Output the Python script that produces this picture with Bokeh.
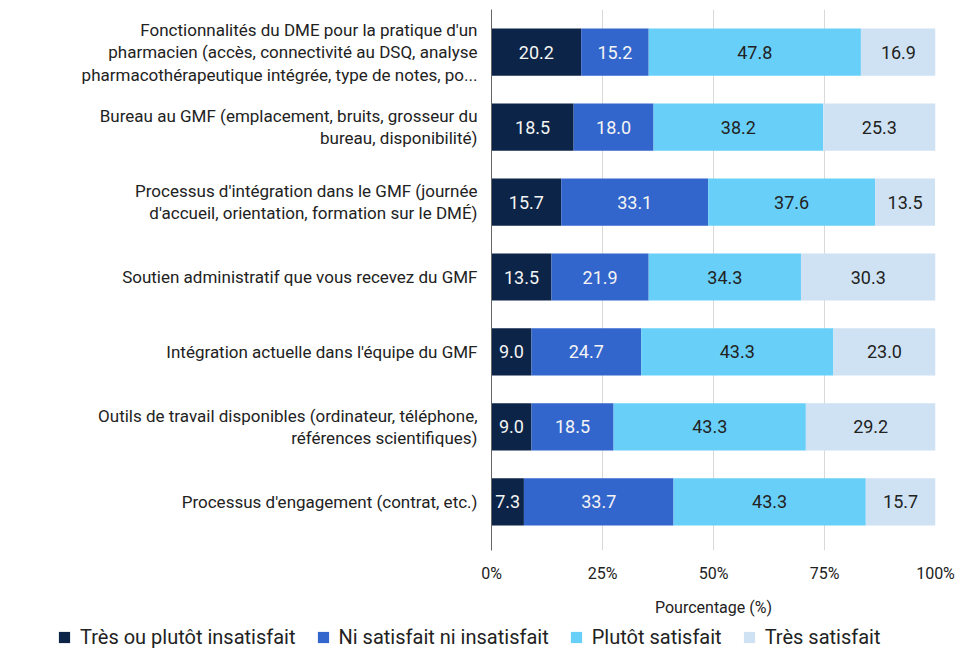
from bokeh.plotting import figure
from bokeh.layouts import column
from bokeh.models import ColumnDataSource, Range1d, FixedTicker, Legend, LegendItem
from bokeh.embed import file_html
from bokeh.resources import INLINE
from bokeh.core.properties import value

categories = [
    "Fonctionnalités du DME pour la pratique d'un\npharmacien (accès, connectivité au DSQ, analyse\npharmacothérapeutique intégrée, type de notes, po...",
    "Bureau au GMF (emplacement, bruits, grosseur du\nbureau, disponibilité)",
    "Processus d'intégration dans le GMF (journée\nd'accueil, orientation, formation sur le DMÉ)",
    "Soutien administratif que vous recevez du GMF",
    "Intégration actuelle dans l'équipe du GMF",
    "Outils de travail disponibles (ordinateur, téléphone,\nréférences scientifiques)",
    "Processus d'engagement (contrat, etc.)",
]
series_names = ["Très ou plutôt insatisfait", "Ni satisfait ni insatisfait", "Plutôt satisfait", "Très satisfait"]
tres_insat = [20.2, 18.5, 15.7, 13.5, 9.0, 9.0, 7.3]
ni_ni = [15.2, 18.0, 33.1, 21.9, 24.7, 18.5, 33.7]
plutot_sat = [47.8, 38.2, 37.6, 34.3, 43.3, 43.3, 43.3]
tres_sat = [16.9, 25.3, 13.5, 30.3, 23.0, 29.2, 15.7]
x_ticks = [0, 25, 50, 75, 100]

colors = ["#0c2447", "#3366cc", "#68cff9", "#cfe2f3"]
text_colors = ["#f4f4f4", "#f4f4f4", "#222222", "#222222"]
series = [tres_insat, ni_ni, plutot_sat, tres_sat]

n = len(categories)
ypos = [n - 1 - i for i in range(n)]

p = figure(frame_width=444, frame_height=541, output_backend="svg", toolbar_location=None,
           x_range=Range1d(0, 100), y_range=Range1d(-0.65, 6.57),
           min_border_left=491, min_border_top=9, min_border_right=26, min_border_bottom=70)
p.outline_line_color = None

sources = []
left = [0.0] * n
for k, (vals, col, tcol) in enumerate(zip(series, colors, text_colors)):
    right = [l + v for l, v in zip(left, vals)]
    src = ColumnDataSource(dict(y=ypos, left=left, right=right,
                                mid=[(l + r) / 2 for l, r in zip(left, right)],
                                lab=["%.1f" % v for v in vals]))
    sources.append(src)
    p.hbar(y="y", left="left", right="right", height=0.63, source=src,
           fill_color=col, line_color=None)
    p.text(x="mid", y="y", text="lab", source=src, text_align="center", text_baseline="middle",
           text_color=tcol, text_font=value("Roboto"), text_font_size="18px")
    left = right

p.yaxis.ticker = FixedTicker(ticks=ypos)
p.yaxis.major_label_overrides = {y: c for y, c in zip(ypos, categories)}
p.yaxis.major_label_text_font = "Roboto"
p.yaxis.major_label_text_font_size = "17px"
p.yaxis.major_label_text_color = "#222222"
p.yaxis.major_label_text_line_height = 1.12
p.yaxis.major_tick_line_color = None
p.yaxis.minor_tick_line_color = None
p.yaxis.axis_line_color = "#666666"
p.yaxis.major_label_standoff = 8
p.ygrid.grid_line_color = None

p.xaxis.ticker = FixedTicker(ticks=x_ticks)
p.xaxis.major_label_overrides = {t: "%d%%" % t for t in x_ticks}
p.xaxis.major_label_text_font = "Roboto"
p.xaxis.major_label_text_font_size = "16px"
p.xaxis.major_label_text_color = "#222222"
p.xaxis.major_tick_line_color = None
p.xaxis.minor_tick_line_color = None
p.xaxis.axis_line_color = None
p.xaxis.major_label_standoff = 7
p.xaxis.axis_label = "Pourcentage (%)"
p.xaxis.axis_label_text_font = "Roboto"
p.xaxis.axis_label_text_font_style = "normal"
p.xaxis.axis_label_text_font_size = "16px"
p.xaxis.axis_label_text_color = "#222222"
p.xaxis.axis_label_standoff = 12
p.xgrid.grid_line_color = "#d9d9d9"

# legend strip: same sources, ranges chosen so that the bars themselves fall outside the frame
pl = figure(width=961, height=30, output_backend="svg", toolbar_location=None,
            x_range=Range1d(1000, 1001), y_range=Range1d(1000, 1001),
            x_axis_location=None, y_axis_location=None,
            min_border_left=0, min_border_right=0, min_border_top=0, min_border_bottom=0)
pl.outline_line_color = None
pl.grid.visible = False
try:
    p.frame_align = False
    pl.frame_align = False
except Exception:
    pass

items = []
for src, col, name in zip(sources, colors, series_names):
    r = pl.hbar(y="y", left="left", right="right", height=0.63, source=src,
                fill_color=col, line_color=None)
    items.append(LegendItem(label=name, renderers=[r]))
legend = Legend(items=items, orientation="horizontal", location=(57, 1),
                label_text_font="Roboto", label_text_font_size="20px", label_text_color="#222222",
                glyph_width=14, glyph_height=14, spacing=20, label_standoff=9,
                padding=0, margin=0, border_line_color=None, background_fill_alpha=0)
pl.add_layout(legend, "center")

layout = column(p, pl, spacing=0)
open("out.html", "w").write(file_html(layout, INLINE))
